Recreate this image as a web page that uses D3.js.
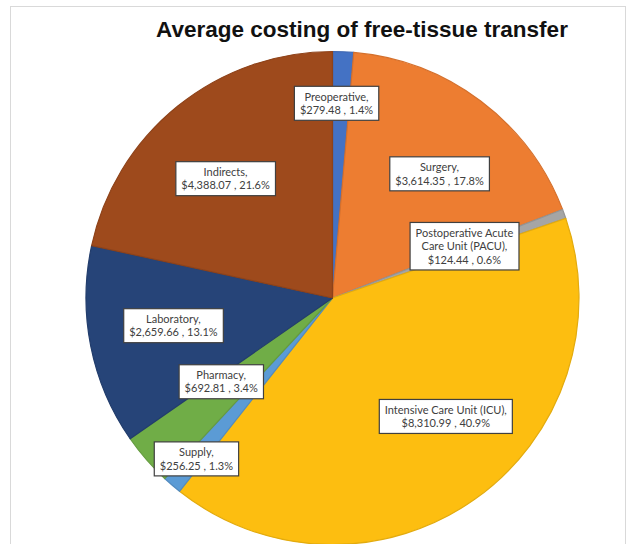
<!DOCTYPE html>
<html>
<head>
<meta charset="utf-8">
<script src="https://cdn.jsdelivr.net/npm/d3@7"></script>
<style>
  html, body { margin: 0; padding: 0; background: #fff; }
  svg { display: block; }
</style>
</head>
<body>
<svg id="chart" width="630" height="544"></svg>
<script>
// ---- Data ----
const categories = [
  "Preoperative",
  "Surgery",
  "Postoperative Acute Care Unit (PACU)",
  "Intensive Care Unit (ICU)",
  "Supply",
  "Pharmacy",
  "Laboratory",
  "Indirects"
];
const costs = [279.48, 3614.35, 124.44, 8310.99, 256.25, 692.81, 2659.66, 4388.07];
const percentLabels = ["1.4%", "17.8%", "0.6%", "40.9%", "1.3%", "3.4%", "13.1%", "21.6%"];
const costLabels = ["$279.48", "$3,614.35", "$124.44", "$8,310.99", "$256.25", "$692.81", "$2,659.66", "$4,388.07"];
// label text lines (category name may wrap)
const labelLines = [
  ["Preoperative,"],
  ["Surgery,"],
  ["Postoperative Acute", "Care Unit (PACU),"],
  ["Intensive Care Unit (ICU),"],
  ["Supply,"],
  ["Pharmacy,"],
  ["Laboratory,"],
  ["Indirects,"]
];
const colors = ["#4472C4", "#ED7D31", "#A5A5A5", "#FDBE10", "#5B9BD5", "#70AD47", "#264478", "#9E4A1C"];
const title = "Average costing of free-tissue transfer";

// label placement: radius fraction and angular nudge (degrees) from slice mid-angle
const labelRadius = [0.79, 0.665, 0.575, 0.665, 0.855, 0.565, 0.655, 0.65];
const labelNudge = [-1.3, 3.8, -1.5, -8.5, -0.4, 4, 1.4, -3];

// ---- Layout ----
const svg = d3.select("#chart");
const cx = 332.5, cy = 298, R = 246.5;

// frame
svg.append("rect")
  .attr("x", 10.5).attr("y", 6.5)
  .attr("width", 615).attr("height", 560)
  .attr("fill", "#fff")
  .attr("stroke", "#d9d9d9").attr("stroke-width", 1);

// title
svg.append("text")
  .attr("x", 362).attr("y", 37)
  .attr("text-anchor", "middle")
  .attr("font-family", "'Liberation Sans', Arial, sans-serif")
  .attr("font-weight", "bold")
  .attr("font-size", 22.5)
  .attr("fill", "#111")
  .text(title);

const data = categories.map((c, i) => ({ name: c, value: costs[i], i }));
const pie = d3.pie().value(d => d.value).sort(null);
const arcs = pie(data);
const arc = d3.arc().innerRadius(0).outerRadius(R);

const g = svg.append("g").attr("transform", `translate(${cx},${cy})`);

g.selectAll("path.slice")
  .data(arcs)
  .join("path")
  .attr("class", "slice")
  .attr("d", arc)
  .attr("fill", d => colors[d.data.i])
  .attr("stroke", d => d3.color(colors[d.data.i]).darker(0.3))
  .attr("stroke-width", 1.2)
  .attr("stroke-linejoin", "round");

// labels
const lg = g.selectAll("g.lbl")
  .data(arcs)
  .join("g")
  .attr("class", "lbl")
  .attr("transform", d => {
    const i = d.data.i;
    const a = (d.startAngle + d.endAngle) / 2 + labelNudge[i] * Math.PI / 180;
    const r = R * labelRadius[i];
    return `translate(${r * Math.sin(a)},${-r * Math.cos(a)})`;
  });

const lineH = 13.5;
lg.each(function(d) {
  const i = d.data.i;
  const lines = labelLines[i].concat([costLabels[i] + " , " + percentLabels[i]]);
  const sel = d3.select(this);
  const rect = sel.append("rect");
  const t = sel.append("text")
    .attr("text-anchor", "middle")
    .attr("font-family", "Lato, 'Open Sans', sans-serif")
    .attr("font-size", 11)
    .attr("fill", "#404040");
  const n = lines.length;
  lines.forEach((ln, k) => {
    t.append("tspan")
      .attr("x", 0)
      .attr("y", (k - (n - 1) / 2) * lineH + 4)
      .text(ln);
  });
  const bb = t.node().getBBox();
  const padX = 5.5, padY = 3.5;
  rect.attr("x", bb.x - padX).attr("y", -(n * lineH) / 2 - padY)
    .attr("width", bb.width + padX * 2)
    .attr("height", n * lineH + padY * 2)
    .attr("fill", "#fff")
    .attr("stroke", "#404040")
    .attr("stroke-width", 1.2);
});
</script>
</body>
</html>
